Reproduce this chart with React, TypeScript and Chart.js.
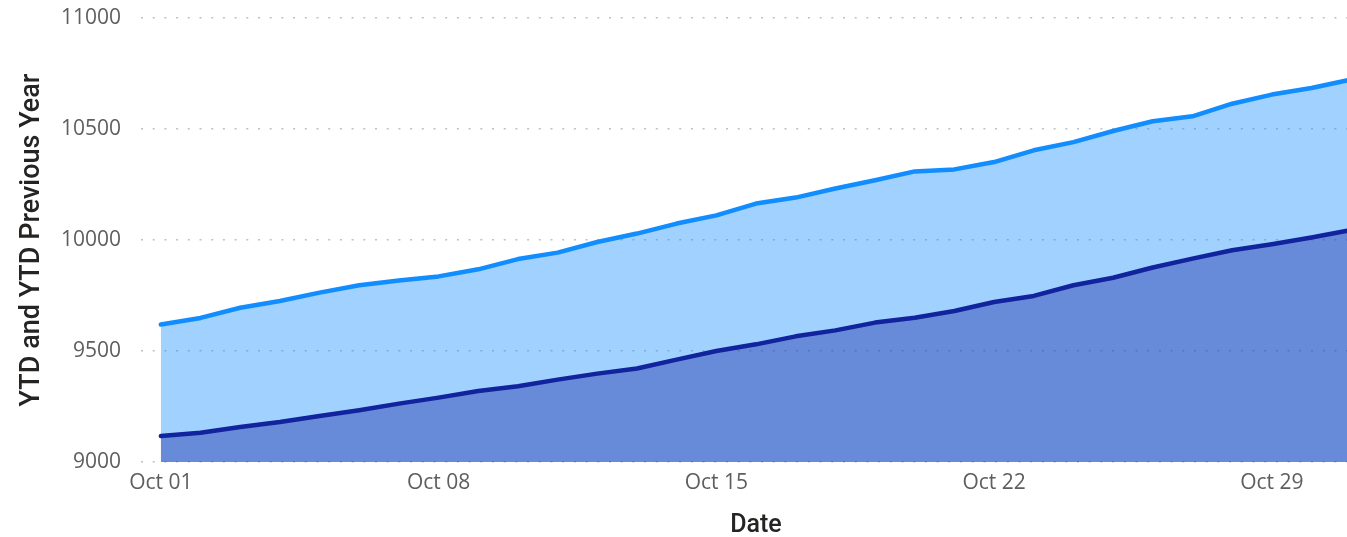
import React, { useEffect, useRef } from "react";
import { Chart, registerables } from "chart.js";

Chart.register(...registerables);

const dates: string[] = [
  "Oct 01", "Oct 02", "Oct 03", "Oct 04", "Oct 05", "Oct 06", "Oct 07", "Oct 08",
  "Oct 09", "Oct 10", "Oct 11", "Oct 12", "Oct 13", "Oct 14", "Oct 15", "Oct 16",
  "Oct 17", "Oct 18", "Oct 19", "Oct 20", "Oct 21", "Oct 22", "Oct 23", "Oct 24",
  "Oct 25", "Oct 26", "Oct 27", "Oct 28", "Oct 29", "Oct 30", "Oct 31",
];

const ytd: number[] = [
  9619, 9649, 9695, 9725, 9763, 9796, 9818, 9836, 9868, 9914, 9943, 9991, 10029,
  10074, 10111, 10164, 10191, 10232, 10269, 10309, 10318, 10351, 10404, 10441,
  10491, 10535, 10557, 10614, 10655, 10685, 10723,
];

const ytdPreviousYear: number[] = [
  9117, 9132, 9158, 9180, 9207, 9233, 9263, 9290, 9320, 9341, 9371, 9398, 9421,
  9461, 9500, 9530, 9566, 9593, 9628, 9650, 9680, 9721, 9748, 9796, 9830, 9876,
  9916, 9954, 9981, 10011, 10045,
];

const shownTickIndexes: number[] = [0, 7, 14, 21, 28];

export default function App() {
  const canvasRef = useRef<HTMLCanvasElement | null>(null);

  useEffect(() => {
    const canvas = canvasRef.current;
    if (!canvas) return;
    const chart = new Chart(canvas, {
      type: "line",
      data: {
        labels: dates,
        datasets: [
          {
            label: "YTD Previous Year",
            data: ytdPreviousYear,
            borderColor: "#12239E",
            backgroundColor: "rgba(18,35,158,0.4)",
            borderWidth: 4.5,
            fill: "start",
            pointRadius: 0,
            tension: 0,
            borderCapStyle: "round",
            borderJoinStyle: "round",
          },
          {
            label: "YTD",
            data: ytd,
            borderColor: "#118DFF",
            backgroundColor: "rgba(17,141,255,0.4)",
            borderWidth: 4.5,
            fill: "start",
            pointRadius: 0,
            tension: 0,
            borderCapStyle: "round",
            borderJoinStyle: "round",
          },
        ],
      },
      options: {
        animation: false,
        responsive: true,
        maintainAspectRatio: false,
        layout: { padding: { top: 18, left: 0, right: 0, bottom: 0 } },
        plugins: {
          legend: { display: false },
          tooltip: { enabled: false },
        },
        scales: {
          x: {
            type: "category",
            offset: true,
            grid: { display: false, drawTicks: false },
            border: { display: false },
            ticks: {
              autoSkip: false,
              maxRotation: 0,
              minRotation: 0,
              padding: 8,
              color: "#605E5C",
              font: { family: "'Open Sans', sans-serif", size: 21 },
              callback: (_v: any, i: number) =>
                shownTickIndexes.includes(i) ? dates[i] : "",
            },
            title: {
              display: true,
              text: "Date",
              color: "#252423",
              font: { family: "Roboto, sans-serif", size: 25, weight: "500" },
              padding: { top: 0, bottom: -4 },
            },
            afterFit: (scale: any) => {
              scale.height = 75;
            },
          },
          y: {
            min: 9000,
            max: 11000,
            z: 1,
            border: { display: false, dash: [2, 9.7] },
            grid: {
              color: "rgba(150,150,150,0.6)",
              lineWidth: 1.6,
              drawTicks: false,
            },
            ticks: {
              stepSize: 500,
              padding: 20,
              color: "#605E5C",
              font: { family: "'Open Sans', sans-serif", size: 21 },
              callback: (v: any) => String(v),
            },
            title: {
              display: true,
              text: "YTD and YTD Previous Year",
              color: "#252423",
              font: { family: "Roboto, sans-serif", size: 27, weight: "500" },
              padding: { top: 16, bottom: 0 },
            },
            afterFit: (scale: any) => {
              scale.width = 141;
              scale.paddingTop = 0;
              scale.paddingBottom = 0;
            },
          },
        },
      } as any,
    });
    return () => chart.destroy();
  }, []);

  return (
    <div
      style={{
        position: "fixed",
        left: 0,
        top: 0,
        width: "1371px",
        height: "537px",
        background: "#ffffff",
      }}
    >
      <canvas ref={canvasRef} />
    </div>
  );
}
